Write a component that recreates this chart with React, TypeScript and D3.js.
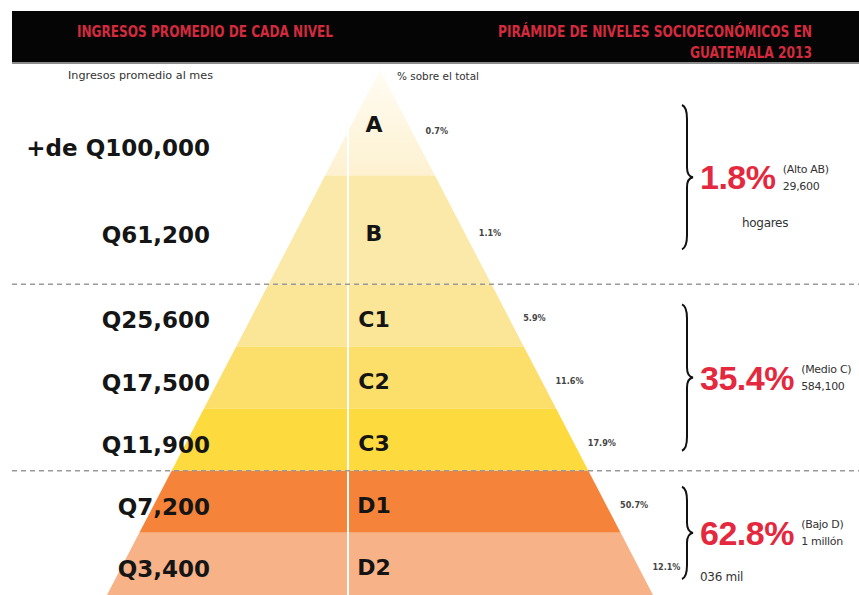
import * as d3 from "d3";
import { useEffect, useRef } from "react";

const levels = ["A", "B", "C1", "C2", "C3", "D1", "D2"];
const incomes = ["+de Q100,000", "Q61,200", "Q25,600", "Q17,500", "Q11,900", "Q7,200", "Q3,400"];
const shares = [0.7, 1.1, 5.9, 11.6, 17.9, 50.7, 12.1];
const tierColors = ["#FDF1D0", "#FBE9AA", "#FBE597", "#FCDF6A", "#FDDA3E", "#F5843A", "#F8B287"];
// relative height of each band in the pyramid
const tierSpan = [1.7, 1.75, 1, 1, 1, 1, 1];

const groupShares = ["1.8%", "35.4%", "62.8%"];
const groupNames = ["(Alto AB)", "(Medio C)", "(Bajo D)"];
const groupHomes = ["29,600", "584,100", "1 millón"];
const groupNotes = ["hogares", "", "036 mil"];
const groupFirst = [0, 2, 5];
const groupLast = [1, 4, 6];

function App() {
  const ref = useRef<SVGSVGElement>(null);

  useEffect(() => {
    const svg = d3.select(ref.current);
    svg.selectAll("*").remove();
    const width = 859;
    const height = 595;
    const cx = 380;
    const red = "#E4283D";
    const font = "'DejaVu Sans', sans-serif";
    const narrow = "'DejaVu Sans Condensed', 'DejaVu Sans', sans-serif";

    const edges = [0, ...Array.from(d3.cumsum(tierSpan))];
    const y = d3.scaleLinear().domain([0, d3.sum(tierSpan)]).range([70, 595]);
    const half = d3.scaleLinear().domain([70, 595]).range([0, 273]);

    // header
    svg.append("rect").attr("x", 12).attr("y", 11).attr("width", width - 12).attr("height", 51).attr("fill", "#050505");
    svg.append("rect").attr("x", 12).attr("y", 62).attr("width", width - 12).attr("height", 2).attr("fill", "#8c8c8c");
    const head = (t: string, x: number, yy: number, len: number) =>
      svg
        .append("text")
        .attr("x", x)
        .attr("y", yy)
        .attr("fill", "#D42A3E")
        .attr("font-family", narrow)
        .attr("font-weight", "bold")
        .attr("font-size", 15)
        .attr("textLength", len)
        .attr("lengthAdjust", "spacingAndGlyphs")
        .text(t);
    head("INGRESOS PROMEDIO DE CADA NIVEL", 77, 37, 256);
    head("PIRÁMIDE DE NIVELES SOCIOECONÓMICOS EN", 498, 37, 314);
    head("GUATEMALA 2013", 690, 58, 122);

    svg
      .append("text")
      .attr("x", 68)
      .attr("y", 79)
      .attr("font-family", font)
      .attr("font-size", 11)
      .attr("fill", "#333")
      .attr("textLength", 145)
      .attr("lengthAdjust", "spacingAndGlyphs")
      .text("Ingresos promedio al mes");
    svg
      .append("text")
      .attr("x", 397)
      .attr("y", 80)
      .attr("font-family", font)
      .attr("font-size", 10)
      .attr("fill", "#333")
      .attr("textLength", 82)
      .attr("lengthAdjust", "spacingAndGlyphs")
      .text("% sobre el total");

    // pyramid tiers
    const defs = svg.append("defs");
    const grad = defs.append("linearGradient").attr("id", "topTier").attr("x1", 0).attr("x2", 0).attr("y1", 0).attr("y2", 1);
    grad.append("stop").attr("offset", "0%").attr("stop-color", "#FFFCF3");
    grad.append("stop").attr("offset", "100%").attr("stop-color", tierColors[0]);

    const tierPts = (i: number) => {
      const y0 = y(edges[i]);
      const y1 = y(edges[i + 1]) + (i === levels.length - 1 ? 10 : 0);
      return [
        [cx - half(y0), y0],
        [cx + half(y0), y0],
        [cx + half(y1), y1],
        [cx - half(y1), y1],
      ];
    };
    const poly = (pts: number[][]) => pts.map((p) => p.join(",")).join(" ");

    const clip = defs.append("clipPath").attr("id", "pyr");
    clip
      .append("polygon")
      .attr("points", poly([[cx, y(0)], [cx + half(605), 605], [cx - half(605), 605]]));

    svg
      .append("g")
      .selectAll("polygon")
      .data(levels)
      .join("polygon")
      .attr("points", (_, i) => poly(tierPts(i)))
      .attr("fill", (_, i) => (i === 0 ? "url(#topTier)" : tierColors[i]));

    // white divider
    svg
      .append("line")
      .attr("clip-path", "url(#pyr)")
      .attr("x1", 348)
      .attr("x2", 348)
      .attr("y1", 70)
      .attr("y2", height)
      .attr("stroke", "#fff")
      .attr("stroke-width", 2);

    // dashed group separators
    [2, 5].forEach((e) => {
      svg
        .append("line")
        .attr("x1", 12)
        .attr("x2", width)
        .attr("y1", y(edges[e]))
        .attr("y2", y(edges[e]))
        .attr("stroke", "#9a9a9a")
        .attr("stroke-width", 1.5)
        .attr("stroke-dasharray", "5,4");
    });

    const mid = (i: number) => (y(edges[i]) + y(edges[i + 1])) / 2;

    // tier letters
    svg
      .append("g")
      .selectAll("text")
      .data(levels)
      .join("text")
      .attr("x", 374)
      .attr("y", (_, i) => mid(i) + (i === 0 ? 2 : 4))
      .attr("text-anchor", "middle")
      .attr("dominant-baseline", "central")
      .attr("font-family", font)
      .attr("font-weight", "bold")
      .attr("font-size", 22)
      .attr("fill", "#141414")
      .text((d) => d);

    // income labels
    svg
      .append("g")
      .selectAll("text")
      .data(incomes)
      .join("text")
      .attr("x", 210)
      .attr("y", (_, i) => mid(i) + (i === 0 ? 25 : 5))
      .attr("text-anchor", "end")
      .attr("dominant-baseline", "central")
      .attr("font-family", font)
      .attr("font-weight", "bold")
      .attr("font-size", 23)
      .attr("fill", "#151515")
      .text((d) => d);

    // share labels just outside the right edge
    svg
      .append("g")
      .selectAll("text")
      .data(shares)
      .join("text")
      .attr("x", (_, i) => {
        const yy = mid(i) + (i === 0 ? 8 : 3);
        return cx + half(yy) + 14;
      })
      .attr("y", (_, i) => mid(i) + (i === 0 ? 8 : 3))
      .attr("dominant-baseline", "central")
      .attr("font-family", narrow)
      .attr("font-weight", "bold")
      .attr("font-size", 9)
      .attr("fill", "#444")
      .text((d) => `${d}%`);

    // braces and group totals
    const insets = [35, 20, 16];
    const bx = 682;
    groupShares.forEach((g, k) => {
      const t = y(edges[groupFirst[k]]) + insets[k];
      const b = y(edges[groupLast[k] + 1]) - insets[k];
      const m = (t + b) / 2;
      const s = bx + 5;
      svg
        .append("path")
        .attr(
          "d",
          `M${bx},${t} Q${s},${t + 2} ${s},${t + 14} L${s},${m - 10} Q${s},${m - 1} ${bx + 11},${m} Q${s},${m + 1} ${s},${m + 10} L${s},${b - 14} Q${s},${b - 2} ${bx},${b}`,
        )
        .attr("fill", "none")
        .attr("stroke", "#111")
        .attr("stroke-width", 2);

      const big = svg
        .append("text")
        .attr("x", 700)
        .attr("y", m)
        .attr("dominant-baseline", "central")
        .attr("font-family", "'Liberation Sans', Arial, sans-serif")
        .attr("font-weight", "bold")
        .attr("font-size", 34)
        .attr("letter-spacing", -0.5)
        .attr("fill", red)
        .text(g);
      const box = (big.node() as SVGTextElement).getBBox();
      const sx = box.x + box.width + 7;
      [groupNames[k], groupHomes[k]].forEach((t2, j) => {
        svg
          .append("text")
          .attr("x", sx)
          .attr("y", m + (j === 0 ? -8 : 9))
          .attr("dominant-baseline", "central")
          .attr("font-family", font)
          .attr("font-size", 11)
          .attr("fill", "#333")
          .attr("letter-spacing", -0.3)
          .text(t2);
      });
      if (groupNotes[k]) {
        svg
          .append("text")
          .attr("x", k === 0 ? 742 : 700)
          .attr("y", k === 0 ? m + 46 : b - 2)
          .attr("dominant-baseline", "central")
          .attr("font-family", font)
          .attr("font-size", 12)
          .attr("fill", "#333")
          .attr("letter-spacing", -0.3)
          .text(groupNotes[k]);
      }
    });
  }, []);

  return (
    <svg
      ref={ref}
      width={859}
      height={595}
      style={{ position: "absolute", left: 0, top: 0, background: "#fff" }}
    />
  );
}

export default App;
